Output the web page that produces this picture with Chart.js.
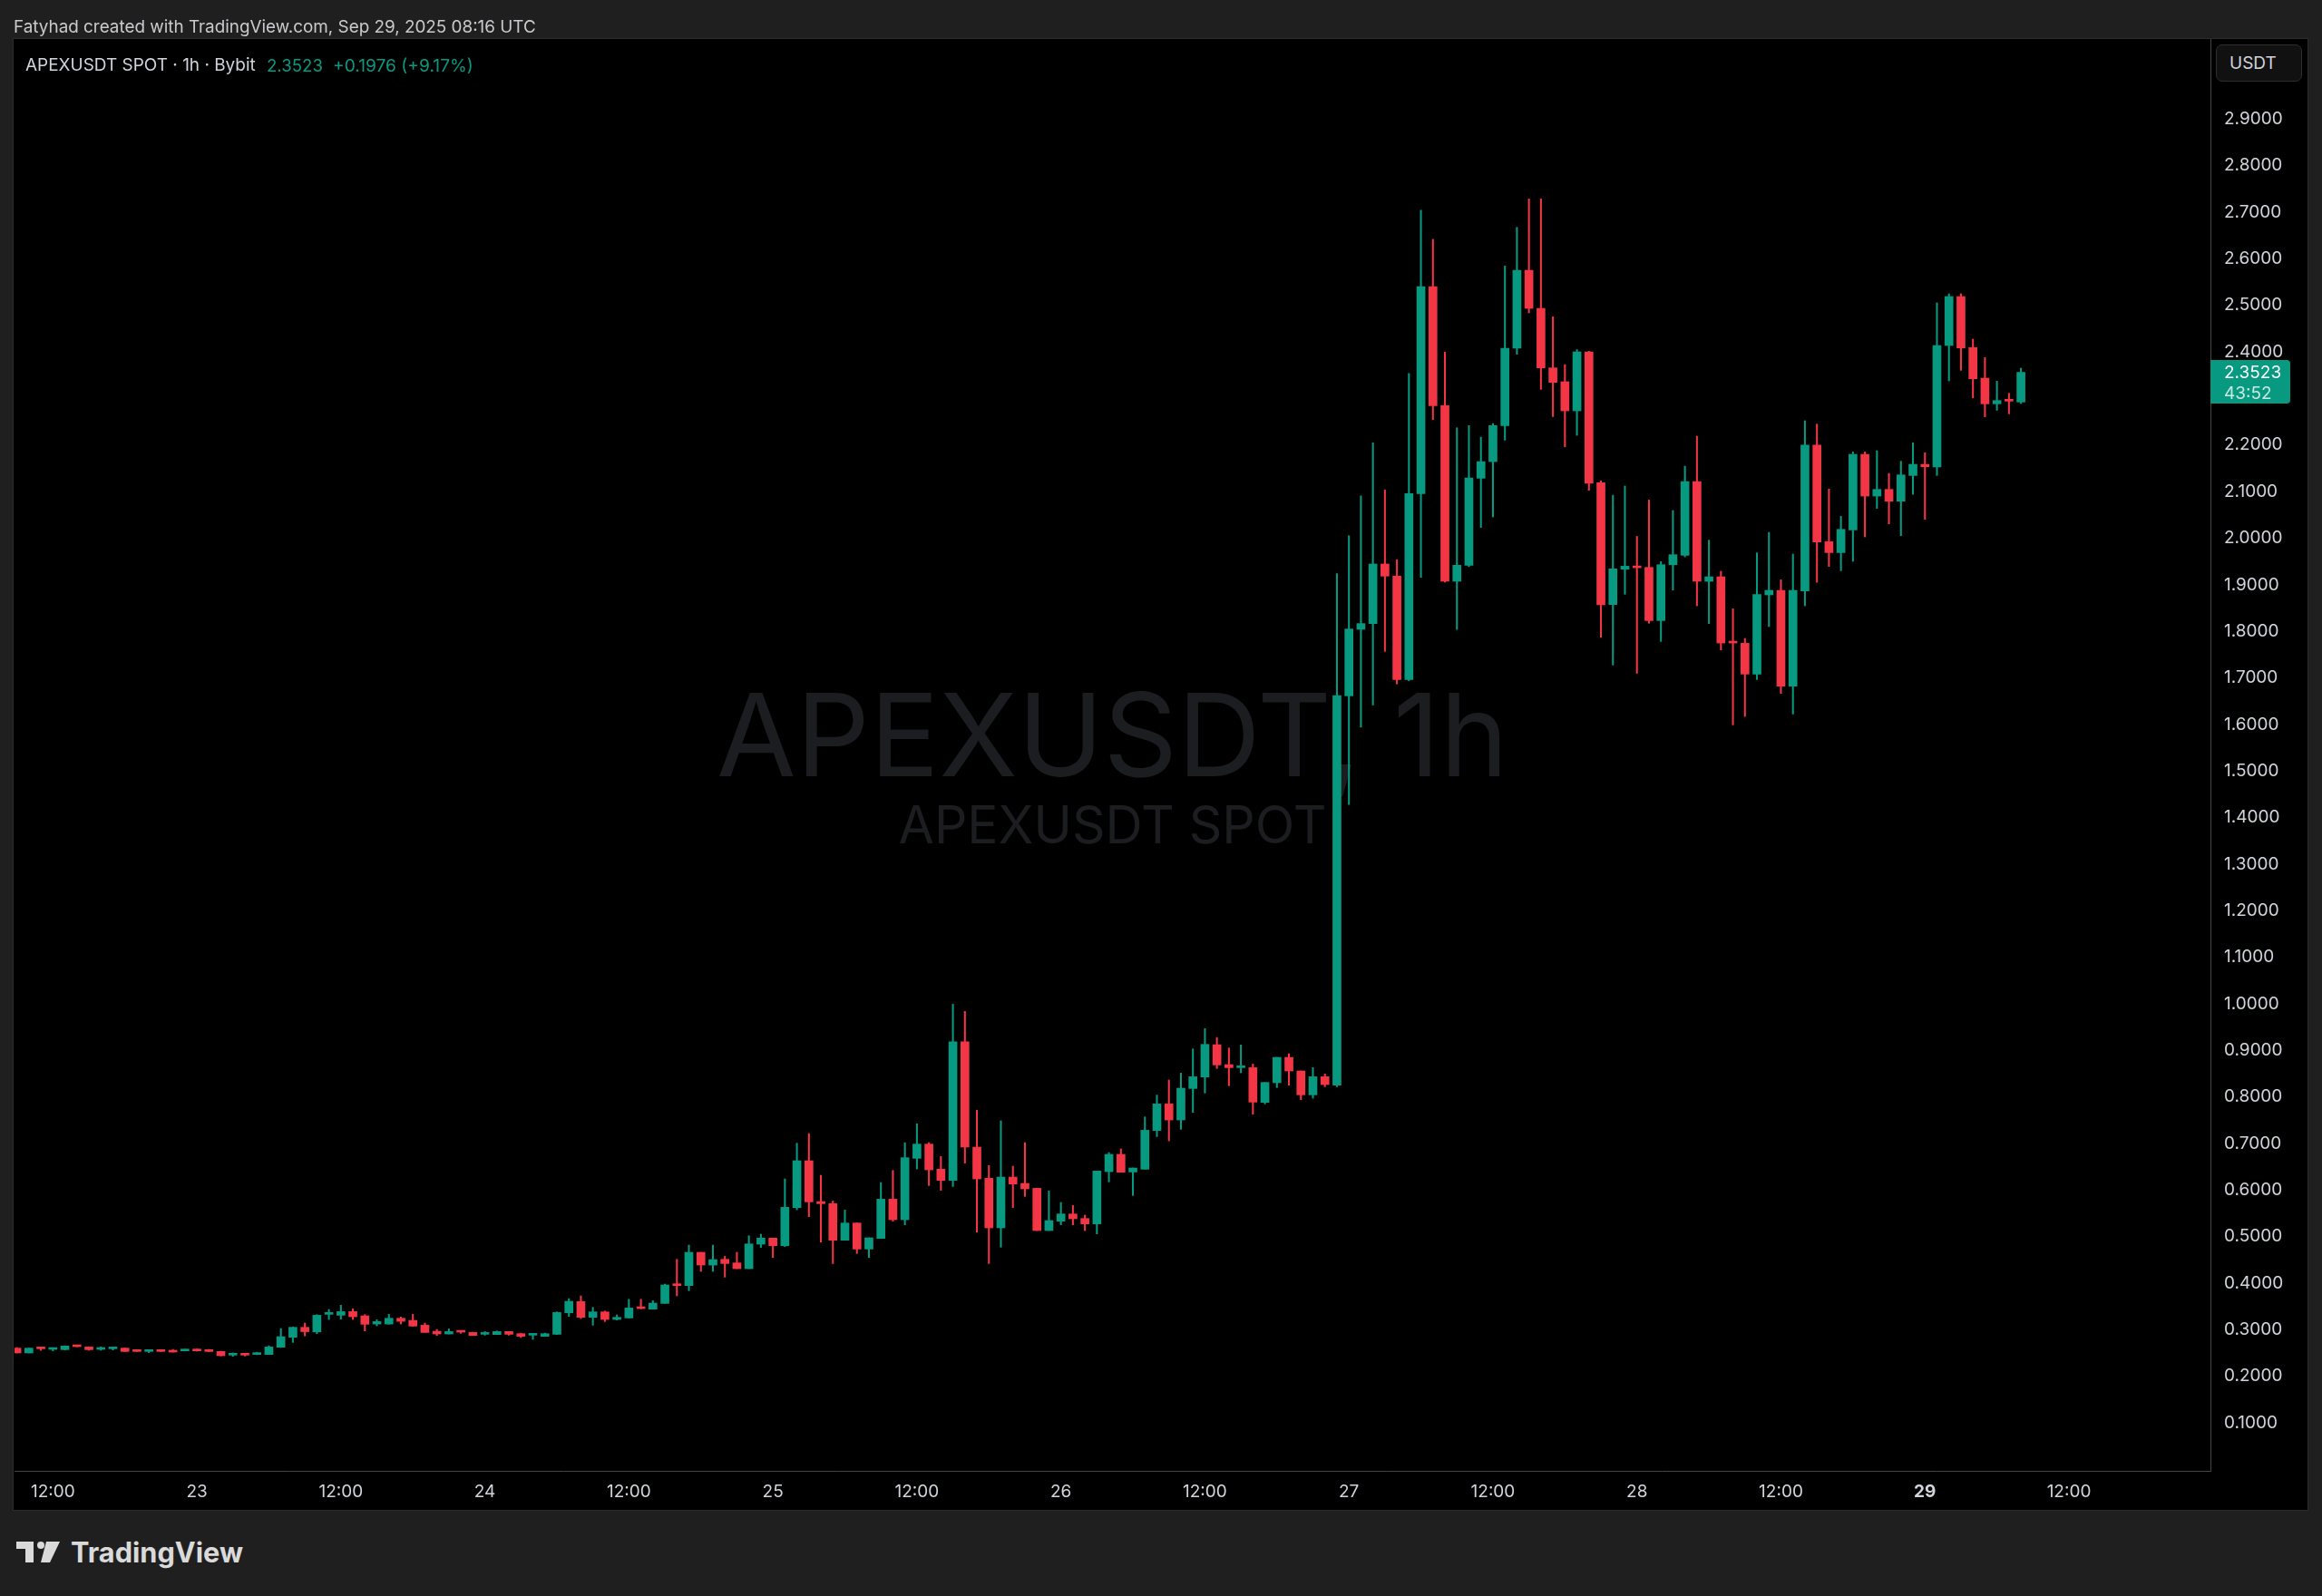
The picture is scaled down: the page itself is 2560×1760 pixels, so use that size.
<!DOCTYPE html>
<html><head><meta charset="utf-8">
<script src="https://cdn.jsdelivr.net/npm/chart.js@4.4.1/dist/chart.umd.min.js"></script>
<style>
html,body{margin:0;padding:0;background:#1f1f1f;width:2560px;height:1760px;overflow:hidden;font-family:Inter,'Noto Sans',sans-serif;}
#panel{position:absolute;left:14px;top:42px;width:2531px;height:1624px;background:#000;border:1px solid #2c2c2c;box-sizing:border-box;}
canvas#c{position:absolute;left:16px;top:43px;}
.t{position:absolute;white-space:nowrap;line-height:30px;height:30px;}
#usdt{position:absolute;left:2443px;top:49px;width:95px;height:41px;box-sizing:border-box;border:1px solid #2e2e2e;border-radius:7px;background:#111;color:#d1d4dc;font-size:19px;line-height:39px;padding-left:14px;}
</style></head><body>
<div id="panel"></div>
<canvas id="c" width="2528" height="1622"></canvas>
<div class="t" data-fitw="576" style="left:15px;top:14.5px;color:#c9cacd;font-size:19px">Fatyhad created with TradingView.com, Sep 29, 2025 08:16 UTC</div>
<div class="t" data-fitw="254" style="left:28px;top:56.5px;color:#d1d4dc;font-size:19px">APEXUSDT SPOT · 1h · Bybit</div>
<div class="t" id="lastv" data-fitw="62" style="left:294px;top:56.5px;color:#089981;font-size:19px"></div>
<div class="t" id="chg" data-fitw="155" style="left:367px;top:56.5px;color:#089981;font-size:19px"></div>
<div id="usdt">USDT</div>
<svg style="position:absolute;left:18px;top:1700px" width="50" height="24" viewBox="0 0 50 24">
  <path d="M0 0 H19 V23 H10 V8 H0 Z" fill="#dadada"/>
  <circle cx="27" cy="4" r="4" fill="#dadada"/>
  <path d="M33 0 H48 L37 23 H27 Z" fill="#dadada"/>
</svg>
<div class="t" data-fitw="190" style="left:78px;top:1697px;color:#dadada;font-size:30px;font-weight:700">TradingView</div>
<script>
// ---- data: hourly candles, first candle = 22 Sep 09:00 UTC ----
const firstHour = 9; // hours after 22 Sep 00:00
const open = [
.2566,.2463,.2570,.2540,.2534,.2625,.2592,.2540,.2553,.2566,
.2521,.2495,.2521,.2514,.2508,.2540,.2521,.2495,.2417,.2443,
.2430,.2430,.2586,.2800,.3014,.2916,.3293,.3273,.3351,.3260,
.3085,.3085,.3208,.3163,.3059,.2929,.2871,.2936,.2903,.2864,
.2858,.2923,.2877,.2845,.2819,.2864,.3325,.3566,.3228,.3345,
.3183,.3215,.3442,.3403,.3527,.3936,.3910,.4624,.4351,.4474,
.4397,.4273,.4799,.4929,.4766,.5584,.6591,.5714,.5669,.4883,
.5253,.4695,.4922,.5766,.5325,.6643,.6948,.6409,.6169,.9148,
.6883,.6214,.5150,.6240,.6104,.5999,.5092,.5293,.5448,.5351,
.5234,.6357,.6728,.6350,.6409,.7240,.7811,.7467,.8142,.8389,
.9083,.8655,.8590,.8590,.7844,.8266,.8811,.8519,.8006,.8395,
.8214,1.6575,1.8004,1.8127,1.9406,1.9146,1.6926,2.0917,2.5364,2.2806,
1.9036,1.9380,2.1248,2.1605,2.2378,2.4040,2.5714,2.4896,2.3618,2.3320,
2.2696,2.3962,2.1151,1.8536,1.9294,1.9359,1.9333,1.8191,1.9391,1.9593,
2.1177,1.9035,1.9132,1.7736,1.7704,1.7042,1.8743,1.8840,1.6782,1.8827,
2.1962,1.9885,1.9651,2.0138,2.1761,2.0865,2.1008,2.0755,2.1307,2.1547,
2.1489,2.4099,2.5150,2.4053,2.3397,2.2846,2.2930,2.2885];
const high = [
.2580,.2566,.2576,.2566,.2618,.2631,.2595,.2592,.2580,.2570,
.2524,.2524,.2524,.2540,.2543,.2547,.2540,.2502,.2463,.2446,
.2476,.2618,.2988,.3020,.3105,.3286,.3397,.3488,.3410,.3286,
.3176,.3293,.3234,.3293,.3105,.2968,.2981,.2936,.2910,.2923,
.2936,.2923,.2890,.2871,.2890,.3345,.3630,.3689,.3442,.3364,
.3280,.3617,.3617,.3585,.3942,.4474,.4779,.4624,.4779,.4539,
.4624,.4981,.5013,.4929,.6201,.6967,.7175,.6279,.5727,.5532,
.5253,.4935,.6123,.6383,.6980,.7383,.6980,.6682,.9953,.9798,
.7675,.6487,.7448,.6474,.6980,.5999,.5942,.5695,.5630,.5423,
.6370,.6767,.6844,.6435,.7532,.8000,.8324,.8473,.8993,.9428,
.9239,.9012,.9077,.8668,.8272,.8811,.8889,.8519,.8590,.8454,
1.9200,2.0010,2.0870,2.2010,2.0995,1.9500,2.3500,2.7006,2.6380,2.3955,
2.2332,2.2378,2.2130,2.2423,2.5805,2.6636,2.7246,2.7246,2.4715,2.3689,
2.4010,2.3975,2.1190,2.0885,2.1080,2.0000,2.0780,1.9457,2.0554,2.1508,
2.2150,1.9918,1.9250,1.8444,1.7808,1.9645,2.0086,1.9067,1.9619,2.2482,
2.2410,2.1015,2.0430,2.1813,2.1813,2.1839,2.1352,2.1612,2.2008,2.1794,
2.5014,2.5209,2.5209,2.4235,2.3839,2.3333,2.3073,2.3612];
const low = [
.2463,.2463,.2521,.2508,.2528,.2593,.2521,.2521,.2527,.2490,
.2493,.2470,.2493,.2480,.2505,.2502,.2490,.2400,.2391,.2398,
.2427,.2427,.2580,.2690,.2830,.2877,.3182,.3189,.3182,.2936,
.3046,.3079,.3085,.3033,.2903,.2838,.2871,.2884,.2838,.2845,
.2858,.2845,.2793,.2754,.2819,.2858,.3248,.3202,.3059,.3137,
.3170,.3215,.3410,.3403,.3527,.3689,.3799,.4215,.4215,.4091,
.4273,.4273,.4727,.4513,.4747,.5539,.5390,.4844,.4383,.4883,
.4598,.4513,.4922,.5292,.5214,.6415,.6059,.5955,.6039,.6539,
.5059,.4384,.4734,.5585,.5825,.5092,.5092,.5215,.5215,.5092,
.5020,.6137,.6344,.5844,.6409,.7110,.7019,.7266,.7630,.8045,
.8571,.8201,.8480,.7591,.7811,.8162,.8214,.7902,.7935,.8181,
.8181,1.4240,1.5900,1.6380,1.7530,1.6830,1.6900,1.9120,2.2508,1.9016,
1.8000,1.9350,2.0190,2.0417,2.2066,2.3910,2.4800,2.3157,2.2572,2.1923,
2.2170,2.0989,1.7835,1.7237,1.8756,1.7060,1.8133,1.7743,1.8846,1.9560,
1.8509,1.8126,1.7561,1.5951,1.6133,1.6925,1.8061,1.6627,1.6185,1.8509,
1.9015,1.9353,1.9262,1.9463,1.9989,2.0600,2.0268,2.0015,2.0905,2.0366,
2.1307,2.3339,2.3566,2.2976,2.2567,2.2709,2.2631,2.2852];
const close = [
.2463,.2566,.2553,.2566,.2612,.2599,.2534,.2566,.2579,.2495,
.2495,.2521,.2495,.2482,.2540,.2508,.2495,.2404,.2443,.2417,
.2463,.2592,.2813,.3014,.2920,.3273,.3312,.3351,.3241,.3079,
.3137,.3208,.3143,.3040,.2903,.2871,.2923,.2910,.2838,.2897,
.2923,.2864,.2819,.2864,.2877,.3332,.3572,.3228,.3345,.3183,
.3228,.3429,.3416,.3533,.3923,.3910,.4624,.4351,.4468,.4384,
.4273,.4805,.4929,.4766,.5591,.6591,.5708,.5669,.4883,.5253,
.4695,.4935,.5766,.5325,.6656,.6948,.6396,.6169,.9148,.6883,
.6201,.5150,.6240,.6091,.5987,.5092,.5306,.5448,.5345,.5234,
.6370,.6728,.6344,.6435,.7246,.7811,.7467,.8149,.8395,.9090,
.8649,.8590,.8616,.7850,.8272,.8811,.8519,.8006,.8395,.8227,
1.6580,1.8010,1.8127,1.9406,1.9146,1.6926,2.0917,2.5364,2.2806,1.9036,
1.9380,2.1255,2.1605,2.2378,2.4040,2.5714,2.4896,2.3618,2.3306,2.2696,
2.3962,2.1138,1.8530,1.9302,1.9359,1.9326,1.8191,1.9391,1.9606,2.1177,
1.9035,1.9132,1.7710,1.7710,1.7042,1.8749,1.8840,1.6782,1.8840,2.1962,
1.9879,1.9651,2.0151,2.1761,2.0865,2.1008,2.0755,2.1320,2.1547,2.1496,
2.4099,2.5150,2.4047,2.3385,2.2846,2.2917,2.2904,2.3523];
const tickHours  = [12,24,36,48,60,72,84,96,108,120,132,144,156,168,180];
const tickLabels = ['12:00','23','12:00','24','12:00','25','12:00','26','12:00','27','12:00','28','12:00','29','12:00'];
const boldTick = 168;
const yTicks = [0.1,0.2,0.3,0.4,0.5,0.6,0.7,0.8,0.9,1.0,1.1,1.2,1.3,1.4,1.5,1.6,1.7,1.8,1.9,2.0,2.1,2.2,2.3,2.4,2.5,2.6,2.7,2.8,2.9];
const dayOpenIndex = 159; // 29 Sep 00:00 candle
const countdown = '43:52';
const watermark1 = 'APEXUSDT, 1h';
const watermark2 = 'APEXUSDT SPOT';

// ---- styling ----
const GREEN = '#089981', RED = '#f23645';
const FONT = "Inter, 'Noto Sans', sans-serif";
const colors = close.map((c,i)=> c >= open[i] ? GREEN : RED);
const wickData = open.map((o,i)=>({x: firstHour+i, y:[low[i], high[i]]}));
const bodyData = open.map((o,i)=>({x: firstHour+i, y:[o, close[i]]}));

const last = close[close.length-1];
const ref = close[dayOpenIndex-1];
const chg = last - ref;
document.getElementById('lastv').textContent = last.toFixed(4);
document.getElementById('chg').textContent = (chg>=0?'+':'') + chg.toFixed(4) + ' (' + (chg>=0?'+':'') + (chg/ref*100).toFixed(2) + '%)';

function fitAll(){
  document.querySelectorAll('[data-fitw]').forEach(el=>{
    const target = +el.dataset.fitw;
    const w = el.getBoundingClientRect().width;
    const fs = parseFloat(getComputedStyle(el).fontSize);
    if (w > 0) el.style.fontSize = (fs*target/w) + 'px';
  });
}
Promise.all([
  document.fonts.load('400 19px Inter'),
  document.fonts.load('700 30px Inter')
]).then(()=>document.fonts.ready).then(fitAll, fitAll);

function fitFont(c, text, target, weight){
  c.font = weight + ' 100px ' + FONT;
  const w = c.measureText(text).width;
  c.font = weight + ' ' + (100*target/w) + 'px ' + FONT;
}

const overlay = {
  id: 'overlay',
  beforeDatasetsDraw(chart){
    const c = chart.ctx, a = chart.chartArea;
    const cx = (a.left + a.right)/2;
    c.save();
    c.fillStyle = '#1c1d21';
    c.textAlign = 'center';
    c.textBaseline = 'alphabetic';
    fitFont(c, watermark1, 873, '400');
    c.fillText(watermark1, cx, 813);
    fitFont(c, watermark2, 472, '400');
    c.fillText(watermark2, cx, 887);
    c.restore();
  },
  afterDraw(chart){
    const c = chart.ctx, a = chart.chartArea;
    const y = chart.scales.y.getPixelForValue(last);
    const x0 = a.right;
    c.save();
    c.fillStyle = GREEN;
    c.beginPath();
    if (c.roundRect) c.roundRect(x0, y-13.5, 88, 48, [0,4,4,0]); else c.rect(x0, y-13.5, 88, 48);
    c.fill();
    c.font = '19px ' + FONT;
    c.textAlign = 'left';
    c.textBaseline = 'middle';
    c.fillStyle = '#ffffff';
    c.fillText(last.toFixed(4), x0+15, y+1);
    c.fillStyle = 'rgba(255,255,255,0.78)';
    c.fillText(countdown, x0+15, y+23.5);
    c.restore();
  }
};

function noPad(s){ s.paddingTop = 0; s.paddingBottom = 0; s.paddingLeft = 0; s.paddingRight = 0; }

function build(){
new Chart(document.getElementById('c').getContext('2d'), {
  type: 'bar',
  data: { datasets: [
    { label:'body', data: bodyData, backgroundColor: colors, barThickness: 9, maxBarThickness: 9, minBarLength: 2, grouped: false, order: 0, borderWidth: 0 },
    { label:'wick', data: wickData, backgroundColor: colors, barThickness: 1.4, maxBarThickness: 1.4, grouped: false, order: 1, borderWidth: 0 }
  ]},
  options: {
    responsive: false, animation: false, devicePixelRatio: 1,
    layout: { padding: 0 },
    plugins: { legend: { display: false }, tooltip: { enabled: false } },
    scales: {
      x: {
        type: 'linear', min: 8.8035, max: 191.79, offset: false,
        grid: { display: false, drawTicks: false, offset: false },
        border: { display: true, color: '#454545', width: 1 },
        afterBuildTicks: s => { s.ticks = tickHours.map(v=>({value:v})); },
        afterFit: s => { s.height = 43; noPad(s); },
        ticks: {
          autoSkip: false, maxRotation: 0, padding: 12, color: '#d1d4dc',
          font: c => ({ family: FONT, size: 19, weight: (c.tick && c.tick.value === boldTick) ? '700' : '400' }),
          callback: (v) => { const k = tickHours.indexOf(v); return k >= 0 ? tickLabels[k] : ''; }
        }
      },
      y: {
        position: 'right', min: -0.0069, max: 3.0681,
        grid: { display: false, drawTicks: false },
        border: { display: true, color: '#454545', width: 1 },
        afterBuildTicks: s => { s.ticks = yTicks.map(v=>({value:v})); },
        afterFit: s => { s.width = 107; noPad(s); },
        ticks: {
          autoSkip: false, padding: 15, labelOffset: 2, color: '#d1d4dc',
          font: { family: FONT, size: 19 },
          callback: v => Number(v).toFixed(4)
        }
      }
    }
  },
  plugins: [overlay]
});
}
document.fonts.load('400 19px Inter').then(build, build);
</script>
</body></html>
